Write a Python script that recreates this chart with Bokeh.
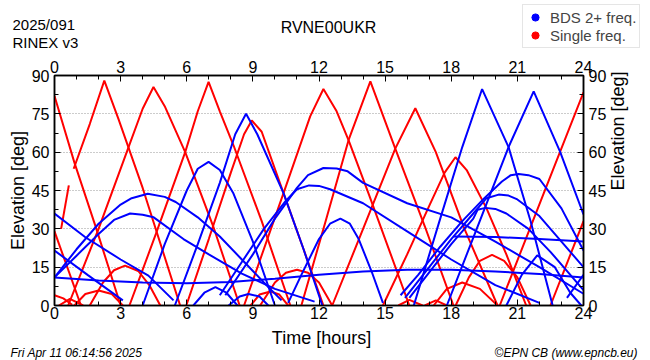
import math
from bokeh.plotting import figure
from bokeh.models import Range1d, LinearAxis, FixedTicker, Label, Legend, LegendItem
from bokeh.embed import file_html
from bokeh.resources import INLINE

station = "RVNE00UKR"
date_label = "2025/091"
rinex_label = "RINEX v3"
created = "Fri Apr 11 06:14:56 2025"
credit = "\u00a9EPN CB (www.epncb.eu)"
legend_labels = ["BDS 2+ freq.", "Single freq."]
x_title = "Time [hours]"
y_title = "Elevation [deg]"
x_ticks = [0, 3, 6, 9, 12, 15, 18, 21, 24]
x_minor = list(range(25))
y_ticks = [0, 15, 30, 45, 60, 75, 90]
y_minor = [7.5, 22.5, 37.5, 52.5, 67.5, 82.5]
grid_ticks = [15, 30, 45, 60, 75]

# Single-frequency satellite arcs (time in hours, elevation in degrees)
single_t = [
    [0, 0.9, 1.9, 3.0],
    [0.3, 0.65],
    [0.87, 1.6, 2.26, 2.9, 4.0, 5.7],
    [0, 1.2],
    [0.62, 2.0, 3.36, 4.0, 4.49, 5.0, 5.93, 7.2, 8.4],
    [3.4, 4.6, 5.93, 6.5, 6.99, 7.5, 8.12, 9.4, 10.7],
    [5.98, 7.0, 8.0, 8.6, 8.95, 9.4, 10.39, 11.3, 12.2],
    [8.6, 10.39, 11.6, 12.2, 12.8, 13.34, 14.25, 16.1],
    [11.2, 12.3, 13.34, 14.33, 15.46, 16.8, 18.1],
    [12.6, 14.0, 15.46, 16.37, 17.3, 18.6, 20.1],
    [14.9, 16.0, 17.0, 17.7, 18.19, 18.7, 19.6, 20.5, 21.4],
    [20.2, 22.19, 24],
    [22.5, 24],
    [0, 0.4, 0.8],
    [0.2, 0.7, 1.3],
    [0.9, 1.4, 2.0, 2.6, 3.1],
    [1.6, 2.2, 2.7, 3.2, 3.8, 4.3, 4.8],
    [8.9, 9.3, 9.8, 10.2, 10.6],
    [9.33, 10.0, 10.5, 11.0, 11.5, 12.0, 12.6],
    [15.6, 16.1, 16.7],
    [16.8, 17.3, 17.8],
    [17.2, 17.8, 18.5, 19.3, 20.1],
    [18.2, 18.8, 19.3, 19.85, 20.4, 21.0, 21.6],
]
single_el = [
    [82, 56, 30, 0],
    [30, 47],
    [53.5, 71, 88, 73, 46, 0],
    [29, 0],
    [0, 30, 62, 77, 85.5, 78, 60, 31, 0],
    [0, 28, 60, 76, 87.5, 76, 62.7, 33, 0],
    [0, 26, 52, 67, 72.4, 68, 44, 22, 0],
    [0, 44, 74, 84.7, 76, 64.7, 43.8, 0],
    [0, 33, 64.7, 87.7, 61.4, 31, 0],
    [0, 30, 61.4, 77.2, 60, 30, 0],
    [0, 20, 39, 52, 58, 53, 38, 20, 0],
    [0, 43.8, 83.4],
    [0, 33],
    [4, 2.8, 0.3],
    [0, 2.6, 0],
    [0, 4.5, 5.9, 4.5, 0],
    [0, 9, 13.8, 15.6, 13.5, 8, 0],
    [0, 4.3, 5.5, 4.3, 0],
    [0, 9, 12.8, 14, 12.8, 9, 0],
    [0, 2.2, 0],
    [0, 2, 0],
    [0, 6.5, 9, 6.5, 0],
    [0, 11, 17.5, 19.8, 17.5, 11, 0],
]

# BDS dual(+)-frequency satellite arcs
bds_t = [
    [0, 1.4, 3.0, 4.26, 5.4],
    [0, 1.5, 3.1],
    [0, 2, 4, 6, 8, 10, 12, 14, 16, 18, 20, 22, 24],
    [0, 1, 2, 3, 3.5, 4.23, 5.0, 5.5, 6.5, 7.5, 8.5, 9.5, 10.3],
    [0, 1, 2, 2.7, 3.43, 4.0, 4.5, 5.85, 7, 8.5, 10, 11.8],
    [4.0, 5.0, 6.0, 6.5, 6.99, 7.5, 8.12, 9.0, 10.0],
    [5.46, 6.5, 7.5, 8.2, 8.69, 9.2, 10.39, 11.3, 12.15],
    [6.3, 6.8, 7.3, 7.8, 8.3],
    [7.9, 8.4, 8.8, 9.3, 9.7],
    [7.5, 8.5, 9.5, 10.5, 11.0, 11.55, 12.0, 12.5, 14, 16, 18, 20, 22],
    [7.75, 9, 10, 11, 11.5, 12.2, 12.8, 13.3, 14, 16, 18, 20, 22, 24],
    [10.6, 11.2, 12, 12.5, 12.97, 13.4, 13.8, 14.4, 14.9],
    [18.1, 20, 22, 24],
    [16.3, 17.5, 18.5, 19.4, 20.6, 21.6, 22.6],
    [17.8, 19.2, 20.6, 21.74, 22.94, 24],
    [15.7, 16.5, 17.5, 18.5, 19.5, 20.3, 20.7, 21.06, 21.5, 22, 23, 24],
    [15.9, 17, 18, 19, 19.6, 20.15, 20.6, 21, 22, 23, 24],
    [16.1, 17, 18, 19, 19.2, 19.55, 20.0, 20.5, 21.5, 22.5, 23.5, 24],
    [20.5, 21.2, 21.9, 22.7, 23.4, 23.9],
    [23.25, 24],
]
bds_el = [
    [36, 26.7, 18, 11.7, 2],
    [21.5, 12, 2],
    [11, 9.8, 9, 8.7, 9.2, 10.5, 12, 13.3, 14, 14, 13.3, 12.3, 11],
    [11, 22, 32, 39.5, 42, 43.7, 42.5, 40.5, 34.5, 27, 18, 9, 2],
    [11, 19.5, 28, 33.5, 36, 35.5, 34.5, 26, 20, 12.5, 6.5, 1.5],
    [0, 24, 45, 53.5, 56.2, 53, 43.8, 25, 0],
    [0, 24, 48, 67, 75, 67, 44, 22, 0],
    [0, 5, 7.2, 5, 0],
    [0, 3.5, 4.5, 3.5, 0],
    [4, 17, 30, 41, 45.5, 47, 46.8, 45.5, 40, 29, 18, 8, 1],
    [4, 20, 34, 46, 51, 53.8, 53.6, 52.5, 48, 40, 34.5, 25, 15, 4.6],
    [1, 12, 26, 32, 34, 32, 26, 13, 1],
    [27, 26.8, 26, 25],
    [0, 34, 62, 84.7, 62, 33, 0],
    [0, 31, 62, 83.8, 60.1, 35.6],
    [4, 12, 23, 33, 42, 48.5, 51, 51.5, 51, 49.5, 38, 21.5],
    [3, 15, 26, 36, 42, 43.4, 43, 41.5, 35, 25, 15],
    [3, 13, 24, 34, 37.5, 38.2, 37.8, 36, 30, 21, 11, 6],
    [0, 12, 19.6, 15, 5, 0],
    [3, 12],
]

RED = "#ff0000"
BLUE = "#0000ff"
FONT = "Liberation Sans"

# Bokeh's page template has no body margin: figures start at page (0, 0)
W = 650
HEAD_H, MAIN_H, FOOT_H = 52, 273, 35      # page rows 0-52, 52-325, 325-360
FL, FR = 54, 67                            # frame page x 54..583
FT, FB = 23, 20                            # frame page y 75..305


def bare_figure(height):
    f = figure(width=W, height=height, output_backend="svg", toolbar_location=None,
               x_range=Range1d(0, 1), y_range=Range1d(0, 1),
               x_axis_type=None, y_axis_type=None, min_border=0)
    f.outline_line_color = None
    f.background_fill_color = "white"
    f.border_fill_color = "white"
    f.grid.visible = False
    return f


def add_text(fig, text, x, y, size, align="left", baseline="alphabetic", style="normal"):
    fig.add_layout(Label(x=x, y=y, x_units="screen", y_units="screen", text=text,
                         text_font=FONT, text_font_size=size, text_align=align,
                         text_baseline=baseline, text_color="black",
                         text_font_style=style))


# ---- header -------------------------------------------------------------
head = bare_figure(HEAD_H)
hy = lambda py: HEAD_H - py
add_text(head, date_label, 12, hy(24), "15px")
add_text(head, rinex_label, 12, hy(42), "15px")
add_text(head, station, 328, hy(27), "16px", align="center")
nan = float("nan")
r_bds = head.scatter(x=[nan], y=[nan], marker="circle", size=8, fill_color=BLUE, line_color=BLUE)
r_single = head.scatter(x=[nan], y=[nan], marker="circle", size=8, fill_color=RED, line_color=RED)
legend = Legend(items=[LegendItem(label=legend_labels[0], renderers=[r_bds]),
                       LegendItem(label=legend_labels[1], renderers=[r_single])],
                location=(522, hy(48)))
legend.label_text_font = FONT
legend.label_text_font_size = "15px"
legend.label_standoff = 6
legend.glyph_width = 18
legend.glyph_height = 18
legend.label_height = 18
legend.spacing = 0
legend.padding = 3
legend.margin = 0
legend.border_line_color = "#cccccc"
legend.border_line_width = 1
legend.background_fill_color = "white"
legend.background_fill_alpha = 1.0
head.add_layout(legend, "center")

# ---- main chart ---------------------------------------------------------
chart = figure(width=W, height=MAIN_H, output_backend="svg", toolbar_location=None,
               x_range=Range1d(0, 24), y_range=Range1d(0, 90),
               min_border_left=FL, min_border_right=FR,
               min_border_top=FT, min_border_bottom=FB)
chart.background_fill_color = "white"
chart.border_fill_color = "white"
chart.outline_line_color = "black"
chart.outline_line_width = 1.5

bottom_axis = chart.below[0]
left_axis = chart.left[0]
top_axis = LinearAxis()
right_axis = LinearAxis()
chart.add_layout(top_axis, "above")
chart.add_layout(right_axis, "right")

chart.xgrid.visible = False
for g in chart.ygrid:
    g.ticker = FixedTicker(ticks=grid_ticks)
    g.grid_line_color = "#999999"
    g.grid_line_dash = "1 2"
    g.grid_line_width = 1

chart.multi_line(xs=single_t, ys=single_el, line_color=RED, line_width=2)
chart.multi_line(xs=bds_t, ys=bds_el, line_color=BLUE, line_width=2)

for ax in [bottom_axis, top_axis]:
    ax.ticker = FixedTicker(ticks=x_ticks, minor_ticks=x_minor)
for ax in [left_axis, right_axis]:
    ax.ticker = FixedTicker(ticks=y_ticks, minor_ticks=y_minor)

for ax in [bottom_axis, top_axis, left_axis, right_axis]:
    ax.axis_line_color = "black"
    ax.axis_line_width = 1.5
    ax.major_tick_in = 6
    ax.major_tick_out = 0
    ax.minor_tick_in = 4
    ax.minor_tick_out = 0
    ax.major_tick_line_color = "black"
    ax.minor_tick_line_color = "black"
    ax.major_label_text_font = FONT
    ax.major_label_text_font_size = "16px"
    ax.major_label_text_color = "black"
    ax.axis_label_text_font = FONT
    ax.axis_label_text_font_size = "18px"
    ax.axis_label_text_font_style = "normal"
    ax.axis_label_text_color = "black"
bottom_axis.major_label_standoff = 1
top_axis.major_label_standoff = 3
left_axis.major_label_standoff = 5
right_axis.major_label_standoff = 5

left_axis.axis_label = y_title
left_axis.axis_label_standoff = 1
right_axis.axis_label = y_title
right_axis.axis_label_standoff = 9
try:
    right_axis.axis_label_orientation = math.pi / 2
except Exception:
    pass

# ---- footer -------------------------------------------------------------
foot = bare_figure(FOOT_H)
fy = lambda py: 360 - py
add_text(foot, x_title, 321, fy(337), "18px", align="center")
add_text(foot, created, 10, fy(352), "12px", style="italic")
add_text(foot, credit, 637, fy(352), "12px", align="right", style="italic")

p = [head, chart, foot]
open("out.html", "w").write(file_html(p, INLINE))
